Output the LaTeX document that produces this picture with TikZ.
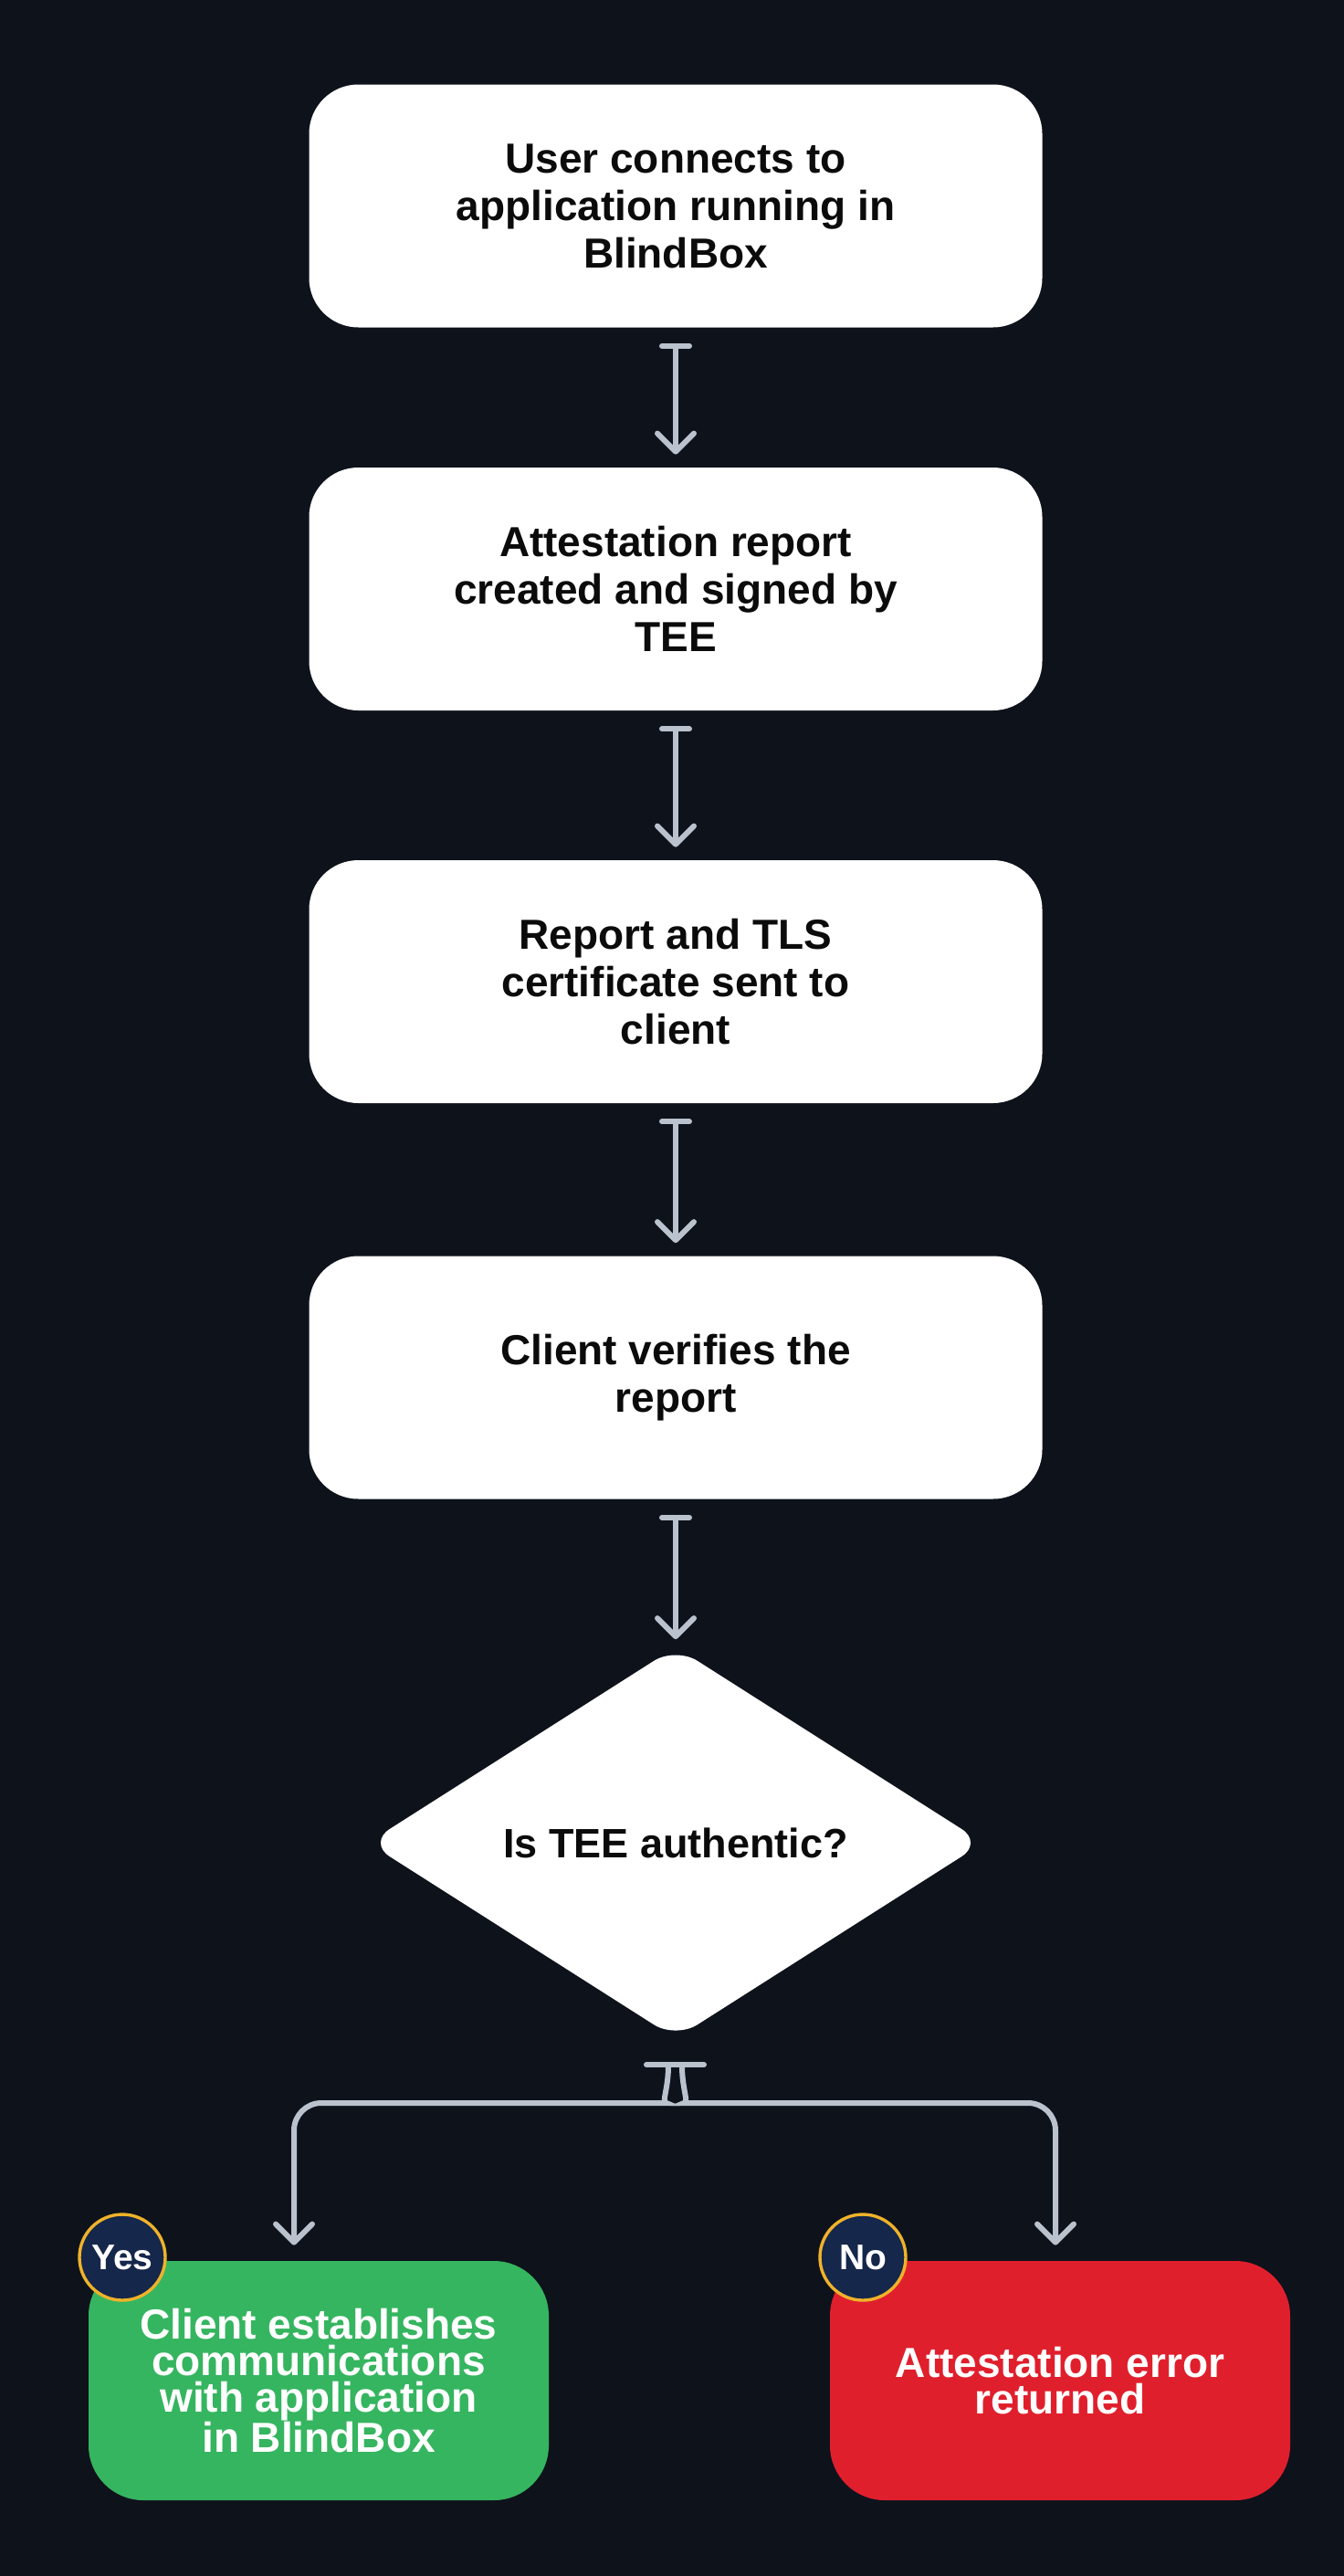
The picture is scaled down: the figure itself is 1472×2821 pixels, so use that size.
\documentclass[tikz,border=0pt]{standalone}
\usepackage{fontspec}
\setmainfont{Liberation Sans}
\usetikzlibrary{arrows.meta,shapes.geometric}
\definecolor{bg}{HTML}{0E121B}
\definecolor{conn}{HTML}{B9C2CD}
\definecolor{okgreen}{HTML}{35B55F}
\definecolor{errred}{HTML}{E01F2D}
\definecolor{badgefill}{HTML}{15274A}
\definecolor{gold}{HTML}{EFB22A}
\definecolor{ink}{HTML}{0B0B0B}
\begin{document}
\begin{tikzpicture}[x=0.5pt,y=-0.5pt,
  stepbox/.style={rectangle, rounded corners=27pt, fill=white, text=ink,
    minimum width=401.5pt, minimum height=133pt, inner sep=0pt, align=center,
    font=\bfseries\fontsize{23}{26}\selectfont},
  decision/.style={diamond, rounded corners=14pt, fill=white, text=ink,
    minimum width=337pt, minimum height=214.5pt, inner sep=0pt, align=center,
    font=\bfseries\fontsize{22.5}{26}\selectfont},
  outbox/.style={rectangle, rounded corners=30pt, text=white,
    minimum width=252pt, minimum height=131pt, inner sep=0pt, align=center,
    font=\bfseries\fontsize{23}{20}\selectfont},
  badge/.style={circle, fill=badgefill, draw=gold, line width=1.7pt,
    minimum size=47pt, inner sep=0pt, text=white,
    font=\bfseries\fontsize{19.5}{22}\selectfont},
  flow/.style={draw=conn, line width=3pt,
    {Bar[width=15pt,round]}-{Straight Barb[length=10pt,width=20pt,round]},
    shorten <=8.5pt, shorten >=7pt},
  branch/.style={draw=conn, line width=3pt, rounded corners=15pt,
    {Bar[width=24pt,round]}-{Straight Barb[length=10pt,width=20pt,round]},
    shorten >=8.5pt}
]
% background / bounding box
\fill[bg] (0,0) rectangle (1472,2821);
\useasboundingbox (0,0) rectangle (1472,2821);

% process steps
\node[stepbox] (s1) at (740,225.5) {User connects to\\application running in\\BlindBox};
\node[stepbox] (s2) at (740,645) {Attestation report\\created and signed by\\TEE};
\node[stepbox] (s3) at (740,1075) {Report and TLS\\certificate sent to\\client};
\node[stepbox] (s4) at (740,1508.5) {Client verifies the\\report};

% decision
\node[decision] (dec) at (740,2018) {Is TEE authentic?};

% outcomes
\node[outbox, fill=okgreen] (yesbox) at (349,2607)
  {Client establishes\\communications\\with application\\in BlindBox};
\node[outbox, fill=errred] (nobox) at (1161,2607)
  {Attestation error\\returned};

% badges
\node[badge] (yes) at (134,2472) {Yes};
\node[badge] (no) at (945,2472) {No};

% connectors
\draw[flow] (s1.south) -- (s2.north);
\draw[flow] (s2.south) -- (s3.north);
\draw[flow] (s3.south) -- (s4.north);
\draw[flow, shorten >=4pt] (s4.south) -- (dec.north);

% fork
\coordinate (forkl) at (732,2258);
\coordinate (forkr) at (747,2258);
\coordinate (lturn) at (700,2303);
\coordinate (rturn) at (779,2303);
\coordinate (lcorner) at (322,2303);
\coordinate (rcorner) at (1156,2303);
\draw[branch] (forkl) .. controls (732,2288) and (724,2303) .. (lturn) -- (lcorner) -- (lcorner |- yesbox.north);
\draw[branch] (forkr) .. controls (747,2288) and (755,2303) .. (rturn) -- (rcorner) -- (rcorner |- nobox.north);
\end{tikzpicture}
\end{document}
